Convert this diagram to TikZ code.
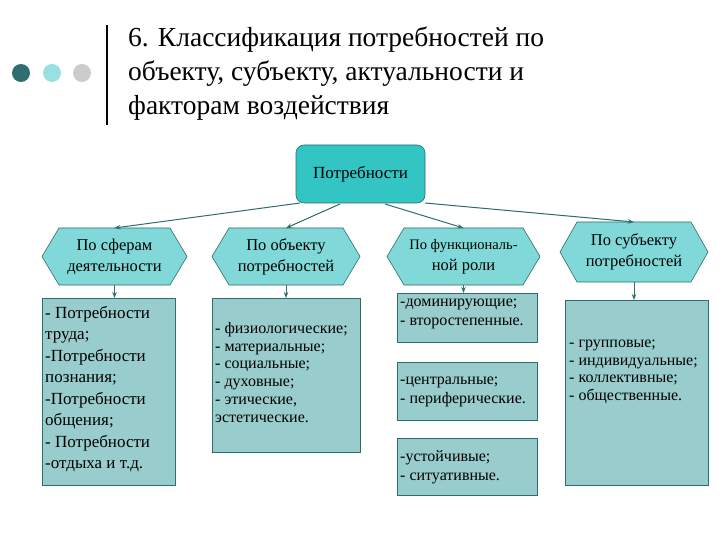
\documentclass[tikz,border=0pt]{standalone}
\usepackage{fontspec}
\setmainfont{Liberation Serif}
\usetikzlibrary{arrows.meta}
\definecolor{root}{HTML}{33C4C4}
\definecolor{hexc}{HTML}{80D8D8}
\definecolor{boxc}{HTML}{99CCCC}
\definecolor{edge}{HTML}{2F6E6E}
\tikzset{
 lbox/.style={draw=edge,fill=boxc,line width=0.6pt},
 conn/.style={draw=edge,line width=1pt,-{Stealth[length=6pt]}},
 txt/.style={font=\fontsize{16}{18}\selectfont,align=left,inner sep=0pt,anchor=north west},
}
\begin{document}
\begin{tikzpicture}[x=1pt,y=1pt]
\useasboundingbox (0,0) rectangle (720,-540);
\fill[fill=white] (0,0) rectangle (720,-540);
\fill[fill=edge] (21,-73) circle (9);
\fill[fill=hexc!80!white] (52,-73) circle (9);
\fill[fill=black!20] (82,-73) circle (9);
\draw[line width=2.5pt] (107,-25) -- (107,-125);
\node[anchor=north west,align=left,inner sep=0pt,font=\fontsize{27.5}{34}\selectfont] (title) at (128,-27) {6. Классификация потребностей по\\объекту, субъекту, актуальности и\\факторам воздействия};
% root
\node[draw=edge,fill=root,rounded corners=8pt,minimum width=129pt,minimum height=58pt,line width=0.6pt,font=\fontsize{17}{20}\selectfont] (root) at (360.5,-174) {Потребности};
% hexagons
\foreach \n/\a/\b/\t/\u/\l in {h1/42/187/228/285/{По сферам\\деятельности},h2/212/360/228/285/{По объекту\\потребностей},h3/387/540/228/285/{\fontsize{14.5}{20}\selectfont По функциональ-\\ной роли},h4/560/708/222/282/{По субъекту\\потребностей}}{
 \pgfmathsetmacro\m{(\t+\u)/2}
 \path[draw=edge,fill=hexc,line width=0.6pt] (\a,-\m) -- (\a+17,-\t) -- (\b-17,-\t) -- (\b,-\m) -- (\b-17,-\u) -- (\a+17,-\u) -- cycle;
 \node[align=center,font=\fontsize{16.5}{21}\selectfont] (\n) at ({(\a+\b)/2},-\m) {\l};
 \coordinate (\n t) at ({(\a+\b)/2},-\t);
 \coordinate (\n b) at ({(\a+\b)/2},-\u);
}
% boxes
\draw[lbox] (42,-298) rectangle (175,-485);
\coordinate (b1) at (114.5,-298);
\node[txt,font=\fontsize{17}{21.5}\selectfont] (t1) at (45,-306) {- Потребности\\труда;\\-Потребности\\познания;\\-Потребности\\общения;\\- Потребности\\-отдыха и т.д.};
\draw[lbox] (212,-298) rectangle (360,-452);
\coordinate (b2) at (286,-298);
\node[txt,font=\fontsize{16}{17.8}\selectfont] (t2) at (215,-322) {- физиологические;\\- материальные;\\- социальные;\\- духовные;\\- этические,\\эстетические.};
\draw[lbox] (397,-293) rectangle (537,-342);
\coordinate (b3) at (463.5,-293);
\node[txt,font=\fontsize{16}{19}\selectfont] (t3) at (400,-299) {-доминирующие;\\- второстепенные.};
\draw[lbox] (397,-362) rectangle (537,-420);
\node[txt,font=\fontsize{16}{19}\selectfont] (t3b) at (400,-377) {-центральные;\\- периферические.};
\draw[lbox] (397,-438) rectangle (537,-495);
\node[txt,font=\fontsize{16}{19}\selectfont] (t3c) at (400,-450) {-устойчивые;\\- ситуативные.};
\draw[lbox] (565,-300) rectangle (708,-485);
\coordinate (b4) at (634,-300);
\node[txt,font=\fontsize{16}{17.5}\selectfont] (t4) at (569,-340) {- групповые;\\- индивидуальные;\\- коллективные;\\- общественные.};
% connectors
\coordinate (r1) at (300,-203);
\coordinate (r2) at (340,-204);
\coordinate (r3) at (385,-204);
\coordinate (r4) at (425,-203);
\draw[conn] (r1) -- (h1t);
\draw[conn] (r2) -- (h2t);
\draw[conn] (r3) -- (h3t);
\draw[conn] (r4) -- (h4t);
\draw[conn] (h1b) -- (b1);
\draw[conn] (h2b) -- (b2);
\draw[conn] (h3b) -- (b3);
\draw[conn] (h4b) -- (b4);
\end{tikzpicture}
\end{document}
